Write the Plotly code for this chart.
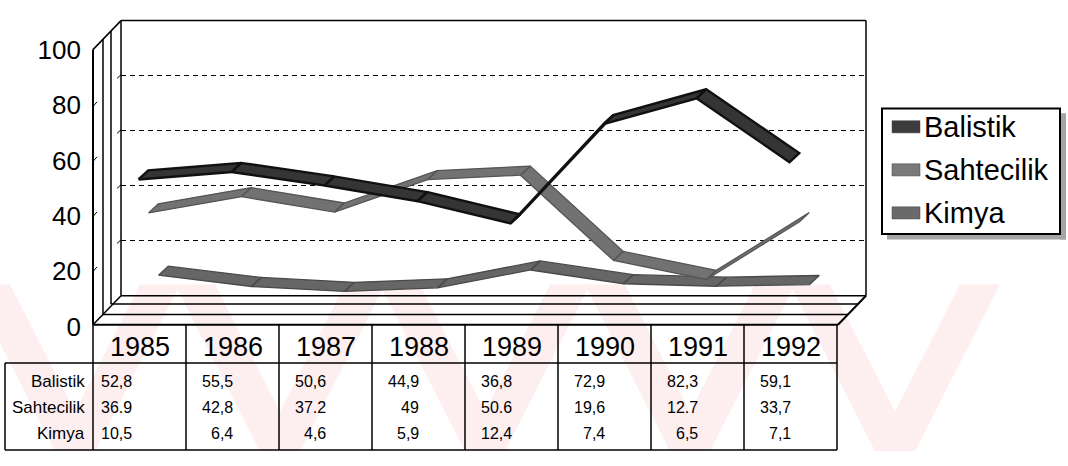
import plotly.graph_objects as go

# ---------------- data ----------------
years = ["1985", "1986", "1987", "1988", "1989", "1990", "1991", "1992"]
series_names = ["Balistik", "Sahtecilik", "Kimya"]
balistik = [52.8, 55.5, 50.6, 44.9, 36.8, 72.9, 82.3, 59.1]
sahtecilik = [36.9, 42.8, 37.2, 49, 50.6, 19.6, 12.7, 33.7]
kimya = [10.5, 6.4, 4.6, 5.9, 12.4, 7.4, 6.5, 7.1]
balistik_txt = ["52,8", "55,5", "50,6", "44,9", "36,8", "72,9", "82,3", "59,1"]
sahtecilik_txt = ["36.9", "42,8", "37.2", "49", "50.6", "19,6", "12.7", "33,7"]
kimya_txt = ["10,5", "6,4", "4,6", "5,9", "12,4", "7,4", "6,5", "7,1"]
y_ticks = [0, 20, 40, 60, 80, 100]
grid_vals = [20, 40, 60, 80]

# ---------------- geometry helpers ----------------
W, H = 1068, 466
FONT = "Liberation Sans, Arial, Helvetica, sans-serif"


def px(x):
    return x / W


def py(y):
    return 1 - y / H


shapes = []


def line(x0, y0, x1, y1, w=1.5, color="black", layer="below"):
    shapes.append(dict(type="line", xref="paper", yref="paper",
                       x0=px(x0), y0=py(y0), x1=px(x1), y1=py(y1),
                       line=dict(color=color, width=w), layer=layer))


def rect(x0, y0, x1, y1, fill=None, w=1.5, color="black", layer="above"):
    shapes.append(dict(type="rect", xref="paper", yref="paper",
                       x0=px(x0), y0=py(y0), x1=px(x1), y1=py(y1),
                       fillcolor=fill if fill else "rgba(0,0,0,0)",
                       line=dict(color=color, width=w), layer=layer))


def poly(points, fill, layer="below"):
    path = "M " + " L ".join(f"{px(x):.5f},{py(y):.5f}" for x, y in points) + " Z"
    shapes.append(dict(type="path", xref="paper", yref="paper", path=path,
                       fillcolor=fill, line=dict(width=0), layer=layer))


# faint pink watermark stripes (V pattern) in the lower band
for a in [-30, 175, 380, 585, 790]:
    poly([(a, 288), (a + 40, 288), (a + 125, 466), (a + 85, 466)], "#fdeef0")
    poly([(a + 170, 288), (a + 210, 288), (a + 125, 466), (a + 85, 466)], "#fdeef0")

# ---------------- 3D frame: back wall, left wall, floor ----------------
line(121, 6, 866, 6)            # back wall top
line(866, 6, 866, 300)          # back wall right
line(121, 6, 121, 300)          # back wall left
line(121, 6, 93, 37)            # top-left diagonal
line(111, 17, 111, 309)
line(103, 26, 103, 320)
line(93, 37, 93, 331, w=2)      # front vertical
line(121, 300, 866, 300)        # floor back edge
line(111, 309, 858, 309)
line(103, 320, 848, 320)
line(93, 331, 838, 331, w=2)    # floor front edge
line(121, 300, 93, 331)
line(866, 300, 838, 331, w=2)
# small tick marks on the walls
for v in grid_vals:
    yb = 300 - v * 2.94
    yf = 331 - v * 2.94
    line(93, yf + 2, 97, yf - 3, w=1)
    line(117, yb + 3, 121, yb - 1, w=1)

# ---------------- table lines ----------------
col_edges = [93 + 93 * k for k in range(9)]
for xe in col_edges:
    line(xe, 331, xe, 465, w=1.5, layer="above")
line(5, 372, 837, 372, w=1.5, layer="above")
line(5, 372, 5, 465, w=1.5, layer="above")
line(5, 465, 837, 465, w=1.5, layer="above")

# ---------------- legend (drawn manually) ----------------
rect(887, 234, 1066, 240, fill="#a5a5a5", w=0)
rect(1060, 105, 1066, 240, fill="#a5a5a5", w=0)
rect(882, 100, 1060, 234, fill="white", w=2)
legend_y = [120, 166, 212]
legend_fill = ["#3c3c3c", "#7a7a7a", "#6a6a6a"]
for yy, fc in zip(legend_y, legend_fill):
    rect(892, yy - 7, 920, yy + 6, fill=fc, w=0.5, color="#444")

# ---------------- traces ----------------
fig = go.Figure()

# back wall axes (gridlines only)
fig.add_trace(go.Scatter(x=[], y=[], xaxis="x", yaxis="y", showlegend=False,
                         hoverinfo="skip"))


def ribbon(vals, dx=0.105, dy=3.3):
    xs, ys = [], []
    for i in range(len(vals) - 1):
        xs += [i, i + 1, i + 1 + dx, i + dx, i, None]
        ys += [vals[i], vals[i + 1], vals[i + 1] + dy, vals[i] + dy, vals[i], None]
    return xs, ys


# back-to-front: Kimya (x2), Sahtecilik (x3), Balistik (x4)
for vals, name, ax, fillc, linec, lw in [
    (kimya, "Kimya", "2", "#666666", "#4a4a4a", 1.3),
    (sahtecilik, "Sahtecilik", "3", "#727272", "#555555", 1.3),
    (balistik, "Balistik", "4", "#353535", "#111111", 2.4),
]:
    xs, ys = ribbon(vals)
    fig.add_trace(go.Scatter(x=xs, y=ys, mode="lines", fill="toself",
                             fillcolor=fillc, line=dict(color=linec, width=lw),
                             xaxis="x" + ax, yaxis="y" + ax, name=name,
                             showlegend=False, hoverinfo="skip"))

# front axis labels
fig.add_trace(go.Scatter(x=[], y=[], xaxis="x5", yaxis="y5", showlegend=False,
                         hoverinfo="skip"))


def series_axes(sx, y0):
    xd = [(93 + sx) / W, (837 + sx) / W]
    yd = [(H - y0) / H, (H - y0 + 294) / H]
    return (dict(domain=xd, range=[-0.5, 7.5], visible=False, fixedrange=True),
            dict(domain=yd, range=[0, 100], visible=False, fixedrange=True))


xk, yk = series_axes(19, 309)
xs_, ys_ = series_axes(9, 320)
xb, yb = series_axes(-1, 331)
xk["anchor"] = "y2"; yk["anchor"] = "x2"
xs_["anchor"] = "y3"; ys_["anchor"] = "x3"
xb["anchor"] = "y4"; yb["anchor"] = "x4"

annotations = []
# year header
for i, yr in enumerate(years):
    annotations.append(dict(xref="x4", yref="paper", x=i, y=py(355), text=yr,
                            showarrow=False, xanchor="center", yanchor="middle",
                            xshift=1,
                            font=dict(size=27, color="black", family=FONT)))
# table rows
row_y = [392, 420, 447]
for name, txts, ry in zip(series_names, [balistik_txt, sahtecilik_txt, kimya_txt], row_y):
    annotations.append(dict(xref="paper", yref="paper", x=px(87), y=py(ry), text=name,
                            showarrow=False, xanchor="right", yanchor="middle",
                            font=dict(size=17, color="black", family=FONT)))
    for i, t in enumerate(txts):
        annotations.append(dict(xref="x4", yref="paper", x=i, y=py(ry), text=t,
                                showarrow=False, xanchor="right", yanchor="middle",
                                xshift=(3 if i > 0 else -5),
                                font=dict(size=16, color="black", family=FONT)))
# legend text
for name, yy in zip(series_names, legend_y):
    annotations.append(dict(xref="paper", yref="paper", x=px(922), y=py(yy), text=name,
                            showarrow=False, xanchor="left", yanchor="middle",
                            font=dict(size=29, color="black", family=FONT)))

fig.update_layout(
    width=W, height=H, autosize=False,
    margin=dict(l=0, r=0, t=0, b=0),
    paper_bgcolor="white", plot_bgcolor="rgba(0,0,0,0)",
    showlegend=False,
    font=dict(family=FONT, color="black"),
    xaxis=dict(domain=[121 / W, 866 / W], range=[0, 1], visible=False, anchor="y",
               fixedrange=True),
    yaxis=dict(domain=[py(300), py(6)], range=[0, 100], anchor="x",
               tickvals=grid_vals, showticklabels=False, ticks="",
               showgrid=True, gridcolor="black", gridwidth=1.2, griddash="5px,4px",
               zeroline=False, showline=False, fixedrange=True),
    xaxis2=xk, yaxis2=yk, xaxis3=xs_, yaxis3=ys_, xaxis4=xb, yaxis4=yb,
    xaxis5=dict(domain=[93 / W, 837 / W], range=[0, 1], visible=False, anchor="y5",
                fixedrange=True),
    yaxis5=dict(domain=[py(333), py(37)], range=[0, 100], anchor="free",
                position=93 / W, side="left", tickvals=y_ticks, ticks="",
                showgrid=False, zeroline=False, showline=False,
                ticklabelstandoff=12,
                tickfont=dict(size=26, color="black", family=FONT), fixedrange=True),
    shapes=shapes,
    annotations=annotations,
)

fig.write_html("out.html", config={"displayModeBar": False, "staticPlot": True},
               post_script="document.body.style.margin='0';document.body.style.overflow='hidden';")
